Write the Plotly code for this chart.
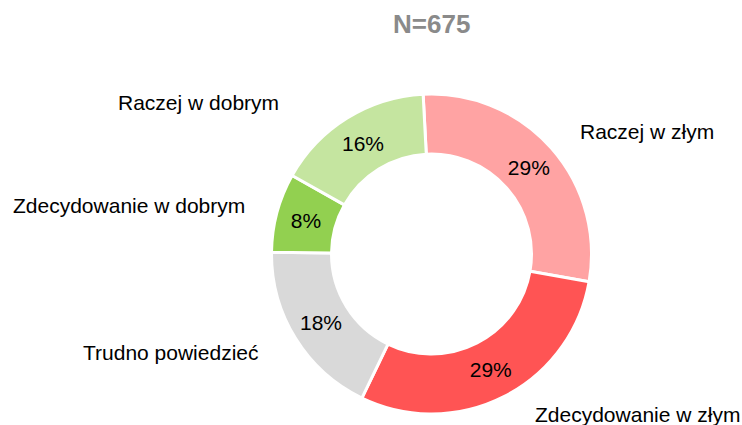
import plotly.graph_objects as go

categories = ["Raczej w złym", "Zdecydowanie w złym", "Trudno powiedzieć",
              "Zdecydowanie w dobrym", "Raczej w dobrym"]
values = [28.6, 29.4, 18.0, 8.0, 16.0]
colors = ["#FFA3A3", "#FF5454", "#D9D9D9", "#92D050", "#C5E5A0"]
title_text = "N=675"

W, H = 742, 425
cx, cy, R = 431.5, 254.0, 160.0


def px_x(x):
    return x / W


def px_y(y):
    return 1 - y / H


fig = go.Figure()
fig.add_trace(go.Pie(
    labels=categories,
    values=values,
    sort=False,
    direction="clockwise",
    rotation=-3,
    hole=0.625,
    marker=dict(colors=colors, line=dict(color="white", width=3)),
    textinfo="percent",
    texttemplate="%{percent:.0%}",
    textposition="inside",
    insidetextorientation="horizontal",
    textfont=dict(family="Liberation Sans, Arial", size=21, color="black"),
    showlegend=False,
    hoverinfo="label+percent",
    domain=dict(x=[(cx - R) / W, (cx + R) / W], y=[1 - (cy + R) / H, 1 - (cy - R) / H]),
))

# outside category labels (screen pixel positions, anchor)
label_pos = [
    (578, 132, "left"),
    (533, 414, "left"),
    (261, 352, "right"),
    (247, 206, "right"),
    (281, 102, "right"),
]
for name, (px, py, anc) in zip(categories, label_pos):
    fig.add_annotation(
        x=px_x(px), y=px_y(py), xref="paper", yref="paper",
        text=name, showarrow=False, xanchor=anc, yanchor="middle",
        font=dict(family="Liberation Sans, Arial", size=21, color="black"),
    )

fig.add_annotation(
    x=px_x(431), y=px_y(24), xref="paper", yref="paper",
    text="<b>" + title_text + "</b>", showarrow=False,
    xanchor="center", yanchor="middle",
    font=dict(family="Liberation Sans, Arial", size=26, color="#8A8A8A"),
)

fig.update_layout(
    width=W, height=H,
    margin=dict(l=0, r=0, t=0, b=0),
    paper_bgcolor="white", plot_bgcolor="white",
)

fig.write_html(
    "out.html",
    config={"displayModeBar": False},
    post_script="document.body.style.margin='0';document.body.style.overflow='hidden';",
)
